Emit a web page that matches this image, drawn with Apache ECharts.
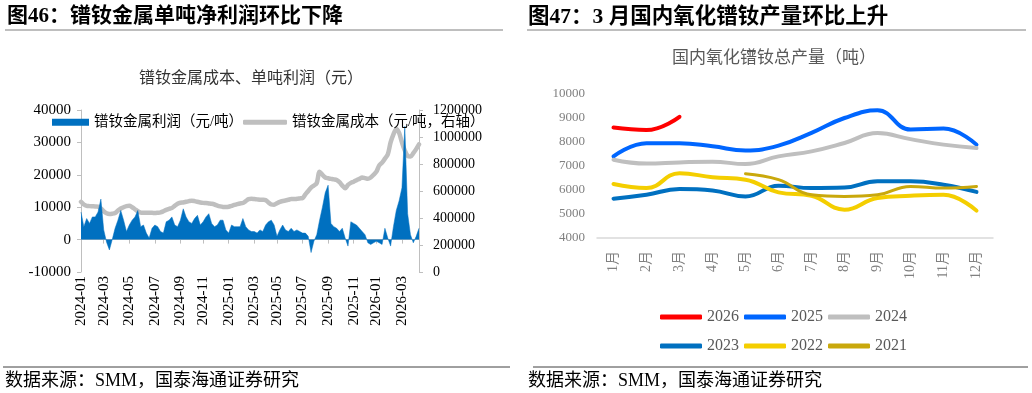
<!DOCTYPE html>
<html><head><meta charset="utf-8">
<script src="https://cdn.jsdelivr.net/npm/echarts@6/dist/echarts.min.js"></script>
<style>html,body{margin:0;padding:0;background:#fff}#c{width:1032px;height:393px}</style>
</head><body><div id="c"></div>
<script>
// ---- Left chart: weekly PrNd metal profit & cost ----
const weekDates = [
"2024-01-05","2024-01-12","2024-01-19","2024-01-26","2024-02-02","2024-02-09","2024-02-16","2024-02-23",
"2024-03-01","2024-03-08","2024-03-15","2024-03-22","2024-03-29","2024-04-05","2024-04-12","2024-04-19","2024-04-26",
"2024-05-03","2024-05-10","2024-05-17","2024-05-24","2024-05-31","2024-06-07","2024-06-14","2024-06-21","2024-06-28",
"2024-07-05","2024-07-12","2024-07-19","2024-07-26","2024-08-02","2024-08-09","2024-08-16","2024-08-23","2024-08-30",
"2024-09-06","2024-09-13","2024-09-20","2024-09-27","2024-10-04","2024-10-11","2024-10-18","2024-10-25",
"2024-11-01","2024-11-08","2024-11-15","2024-11-22","2024-11-29","2024-12-06","2024-12-13","2024-12-20","2024-12-27",
"2025-01-03","2025-01-10","2025-01-17","2025-01-24","2025-01-31","2025-02-07","2025-02-14","2025-02-21","2025-02-28",
"2025-03-07","2025-03-14","2025-03-21","2025-03-28","2025-04-04","2025-04-11","2025-04-18","2025-04-25",
"2025-05-02","2025-05-09","2025-05-16","2025-05-23","2025-05-30","2025-06-06","2025-06-13","2025-06-20","2025-06-27",
"2025-07-04","2025-07-11","2025-07-18","2025-07-25","2025-08-01","2025-08-08","2025-08-15","2025-08-22","2025-08-29",
"2025-09-05","2025-09-12","2025-09-19","2025-09-26","2025-10-03","2025-10-10","2025-10-17","2025-10-24","2025-10-31",
"2025-11-07","2025-11-14","2025-11-21","2025-11-28","2025-12-05","2025-12-12","2025-12-19","2025-12-26",
"2026-01-02","2026-01-09","2026-01-16","2026-01-23","2026-01-30","2026-02-06","2026-02-13","2026-02-20","2026-02-27",
"2026-03-06","2026-03-13","2026-03-20","2026-03-27","2026-04-03","2026-04-10","2026-04-17"];

const profit = [
8500,4000,6500,5000,7000,7000,8500,12500,
3000,-800,-3200,0,3500,6000,9000,6000,2500,
4500,6000,7000,9000,4000,4500,2000,500,3500,
4500,4000,2500,2000,5500,6000,7000,4500,4000,
6000,9500,7000,5500,5000,6500,7500,4500,
5500,7000,8000,5000,4000,4500,6000,6000,3000,
2000,4500,4000,4000,4000,6500,4000,3000,2500,
2500,2000,3000,2500,4500,5500,6000,4500,
1000,3000,4500,3000,2500,3500,2500,3000,2500,
2000,2000,1000,-4000,-500,1500,6000,10000,14500,
16800,5000,4000,3500,2500,3500,500,-2000,5500,
5000,4500,3500,2500,1500,-1000,-1500,-1000,
-500,-1000,-1500,3500,500,-2000,4000,9000,12000,
16000,35000,8000,1500,-1000,1000,3500];

const cost = [
520000,500000,490000,488000,487000,486000,484000,470000,
450000,435000,430000,432000,437000,455000,470000,480000,488000,
490000,480000,465000,450000,440000,438000,438000,438000,438000,
437000,439000,442000,450000,460000,468000,474000,490000,505000,
513000,515000,520000,525000,528000,525000,520000,515000,
512000,511000,508000,505000,500000,492000,486000,482000,481000,
483000,490000,497000,503000,508000,511000,525000,540000,542000,
540000,538000,536000,535000,533000,515000,500000,498000,
510000,520000,526000,530000,535000,540000,540000,542000,545000,
548000,575000,600000,625000,640000,659000,743000,720000,700000,
694000,690000,686000,681000,665000,640000,620000,645000,660000,
669000,680000,690000,700000,695000,690000,700000,720000,
743000,790000,810000,840000,870000,960000,1020000,1060000,1030000,
960000,900000,860000,855000,880000,910000,945000];

// ---- Right chart: monthly PrNd oxide output (t) ----
const months = ["1月","2月","3月","4月","5月","6月","7月","8月","9月","10月","11月","12月"];
const y2026 = [8600,8500,9050,null,null,null,null,null,null,null,null,null];
const y2025 = [7400,7950,7950,7820,7650,7850,8380,9000,9320,8520,8560,7890];
const y2024 = [7260,7100,7150,7180,7080,7400,7610,7960,8370,8120,7890,7750];
const y2023 = [5640,5800,6040,5980,5730,6180,6080,6100,6360,6360,6220,5920];
const y2022 = [6250,6080,6700,6530,6430,5900,5760,5180,5670,5760,5800,5140];
const y2021 = [null,null,null,null,6680,6430,5800,5730,5800,6150,6080,6150];

const SERIF = "'Liberation Serif','Noto Sans CJK SC',serif";

const showTick = (i, v) => { const m = +v.slice(5,7), d = +v.slice(8,10); return d <= 7 && m % 2 === 1; };
const plain = v => String(v);

const yearSeries = [
  ["2026", y2026, "#FF0000", 4],
  ["2025", y2025, "#0066FF", 4],
  ["2024", y2024, "#BFBFBF", 4],
  ["2023", y2023, "#0070C0", 4],
  ["2022", y2022, "#F4CE00", 4],
  ["2021", y2021, "#C9A80C", 3]
].map(([name, data, color, w]) => ({
  name, type: "line", data, xAxisIndex: 1, yAxisIndex: 2, smooth: 0.45,
  symbol: "none", connectNulls: false, color,
  lineStyle: { width: w, color, cap: "round", join: "round" }, itemStyle: { color }
}));

const chart = echarts.init(document.getElementById("c"), null, { renderer: "canvas" });
chart.setOption({
  animation: false,
  backgroundColor: "#fff",
  graphic: [
    { type: "text", x: 7, y: 17, style: { text: "图46：镨钕金属单吨净利润环比下降", fontSize: 21, fontWeight: "bold", fontFamily: SERIF, fill: "#000", verticalAlign: "middle", textVerticalAlign: "middle" } },
    { type: "text", x: 528, y: 17, style: { text: "图47：3 月国内氧化镨钕产量环比上升", fontSize: 21.5, fontWeight: "bold", fontFamily: SERIF, fill: "#000", verticalAlign: "middle", textVerticalAlign: "middle" } },
    { type: "line", shape: { x1: 5, y1: 30, x2: 503, y2: 30 }, style: { stroke: "#7F7F7F", lineWidth: 1 } },
    { type: "line", shape: { x1: 527, y1: 30, x2: 1026, y2: 30 }, style: { stroke: "#7F7F7F", lineWidth: 1 } },
    { type: "line", shape: { x1: 3, y1: 367, x2: 510, y2: 367 }, style: { stroke: "#404040", lineWidth: 1 } },
    { type: "line", shape: { x1: 533, y1: 367, x2: 1028, y2: 367 }, style: { stroke: "#404040", lineWidth: 1 } },
    { type: "text", x: 5, y: 381, style: { text: "数据来源：SMM，国泰海通证券研究", fontSize: 18, fontFamily: SERIF, fill: "#000", verticalAlign: "middle", textVerticalAlign: "middle" } },
    { type: "text", x: 528, y: 381, style: { text: "数据来源：SMM，国泰海通证券研究", fontSize: 18, fontFamily: SERIF, fill: "#000", verticalAlign: "middle", textVerticalAlign: "middle" } },
    { type: "text", x: 251, y: 79, style: { text: "镨钕金属成本、单吨利润（元）", fontSize: 16, fontFamily: SERIF, fill: "#333", align: "center", textAlign: "center", verticalAlign: "middle", textVerticalAlign: "middle" } },
    { type: "text", x: 774, y: 59, style: { text: "国内氧化镨钕总产量（吨）", fontSize: 17, fontFamily: SERIF, fill: "#595959", align: "center", textAlign: "center", verticalAlign: "middle", textVerticalAlign: "middle" } }
  ],
  legend: [
    { data: ["镨钕金属利润（元/吨）"], left: 47, top: 110, icon: "rect", itemWidth: 37, itemHeight: 7,
      textStyle: { fontSize: 14.5, fontFamily: SERIF, color: "#000" } },
    { data: ["镨钕金属成本（元/吨，右轴）"], left: 238, top: 110, icon: "roundRect", itemWidth: 44, itemHeight: 5,
      textStyle: { fontSize: 14.5, fontFamily: SERIF, color: "#000" } },
    { data: ["2026","2025","2024"], left: 655, top: 304, icon: "roundRect", itemWidth: 42, itemHeight: 5, itemGap: 5,
      textStyle: { fontSize: 16, fontFamily: SERIF, color: "#595959" } },
    { data: ["2023","2022","2021"], left: 655, top: 333, icon: "roundRect", itemWidth: 42, itemHeight: 5, itemGap: 5,
      textStyle: { fontSize: 16, fontFamily: SERIF, color: "#595959" } }
  ],
  grid: [
    { left: 81, top: 110, width: 338, height: 162 },
    { left: 597, top: 94, width: 396, height: 144 }
  ],
  xAxis: [
    { type: "category", gridIndex: 0, data: weekDates, boundaryGap: false,
      axisLine: { onZero: true, lineStyle: { color: "#BFBFBF" } },
      axisTick: { interval: showTick, length: 4, lineStyle: { color: "#BFBFBF" } },
      axisLabel: { interval: showTick, rotate: 90, margin: 4, formatter: v => v.slice(0,7),
        fontSize: 15, fontFamily: SERIF, color: "#000" } },
    { type: "category", gridIndex: 1, data: months, boundaryGap: true,
      axisLine: { lineStyle: { color: "#D9D9D9", width: 1.5 } }, axisTick: { show: false },
      axisLabel: { rotate: 90, margin: 13, fontSize: 14, fontFamily: SERIF, color: "#808080" } }
  ],
  yAxis: [
    { type: "value", gridIndex: 0, min: -10000, max: 40000, interval: 10000,
      axisLine: { show: true, lineStyle: { color: "#BFBFBF" } }, axisTick: { show: true, length: 4, lineStyle: { color: "#BFBFBF" } },
      splitLine: { show: false }, axisLabel: { margin: 10, fontSize: 15, fontFamily: SERIF, color: "#000", formatter: plain } },
    { type: "value", gridIndex: 0, position: "right", min: 0, max: 1200000, interval: 200000,
      axisLine: { show: true, lineStyle: { color: "#BFBFBF" } }, axisTick: { show: true, length: 4, lineStyle: { color: "#BFBFBF" } },
      splitLine: { show: false }, axisLabel: { margin: 14, fontSize: 14, fontFamily: SERIF, color: "#000", formatter: plain } },
    { type: "value", gridIndex: 1, min: 4000, max: 10000, interval: 1000,
      axisLine: { show: false }, axisTick: { show: false }, splitLine: { show: false },
      axisLabel: { margin: 12, fontSize: 13, fontFamily: SERIF, color: "#808080", formatter: plain } }
  ],
  series: [
    { name: "镨钕金属成本（元/吨，右轴）", type: "line", xAxisIndex: 0, yAxisIndex: 1, data: cost,
      smooth: 0.3, symbol: "none", color: "#BFBFBF", z: 2,
      lineStyle: { width: 4.5, color: "#BFBFBF", cap: "round", join: "round" }, itemStyle: { color: "#BFBFBF" } },
    { name: "镨钕金属利润（元/吨）", type: "line", xAxisIndex: 0, yAxisIndex: 0, data: profit,
      symbol: "none", color: "#0070C0", z: 3,
      lineStyle: { width: 0.5, color: "#0070C0" }, areaStyle: { color: "#0070C0", opacity: 1 }, itemStyle: { color: "#0070C0" } },
    ...yearSeries
  ]
});
</script></body></html>
